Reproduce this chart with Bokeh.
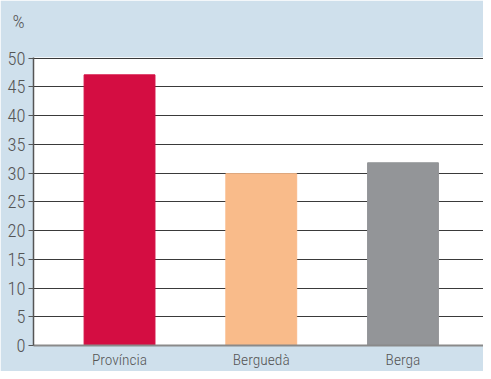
from bokeh.plotting import figure
from bokeh.models import Range1d, FixedTicker, ColumnDataSource, Title
from bokeh.embed import file_html
from bokeh.resources import INLINE

categories = ["Província", "Berguedà", "Berga"]
values = [47.1, 29.9, 31.8]
colors = ["#d40d42", "#f9bb8a", "#939598"]
y_ticks = [0, 5, 10, 15, 20, 25, 30, 35, 40, 45, 50]

FONT = "'Roboto Condensed Light', 'Roboto Condensed', 'DejaVu Sans Condensed', 'Liberation Sans Narrow', 'Roboto Light', sans-serif"
TXT = "#555555"
BG = "#cfe0ec"

xs = list(range(len(categories)))
src = ColumnDataSource(dict(x=xs, top=values, color=colors))

p = figure(width=483, height=371, output_backend="svg", toolbar_location=None,
           x_range=Range1d(-0.607, 2.568), y_range=Range1d(0, 50.12),
           title="%")
p.min_border_left = 33
p.min_border_right = 0
p.min_border_top = 57
p.min_border_bottom = 25
p.border_fill_color = BG
p.background_fill_color = "white"
p.outline_line_color = None

# spacer between the frame and the "%" title
spacer = Title(text=" ", text_font_size="1px", standoff=22)
p.add_layout(spacer, "above")

p.title.align = "left"
p.title.offset = -21
p.title.standoff = 0
p.title.text_font = FONT
p.title.text_font_size = "19px"
p.title.text_font_style = "normal"
p.title.text_color = TXT

p.vbar(x="x", top="top", width=0.5, color="color", source=src)

p.xaxis.ticker = FixedTicker(ticks=xs)
p.xaxis.major_label_overrides = {i: c for i, c in zip(xs, categories)}
p.xaxis.major_tick_line_color = None
p.xaxis.major_tick_out = 0
p.xaxis.major_tick_in = 0
p.xaxis.minor_tick_line_color = None
p.xaxis.axis_line_color = "#8a8a8a"
p.xaxis.axis_line_width = 2
p.xaxis.major_label_standoff = 5
p.xaxis.major_label_text_font = FONT
p.xaxis.major_label_text_font_size = "15.5px"
p.xaxis.major_label_text_color = TXT
p.xgrid.grid_line_color = None

p.yaxis.ticker = FixedTicker(ticks=y_ticks)
p.yaxis.minor_tick_line_color = None
p.yaxis.major_tick_out = 5
p.yaxis.major_tick_in = 0
p.yaxis.major_tick_line_color = "#555555"
p.yaxis.axis_line_color = "#555555"
p.yaxis.axis_line_width = 1.5
p.yaxis.major_label_standoff = 3
p.yaxis.major_label_text_font = FONT
p.yaxis.major_label_text_font_size = "18.5px"
p.yaxis.major_label_text_color = TXT
p.ygrid.grid_line_color = "#3a3a3a"
p.ygrid.grid_line_width = 1
p.ygrid.level = "underlay"

open("out.html", "w").write(file_html(p, INLINE))
